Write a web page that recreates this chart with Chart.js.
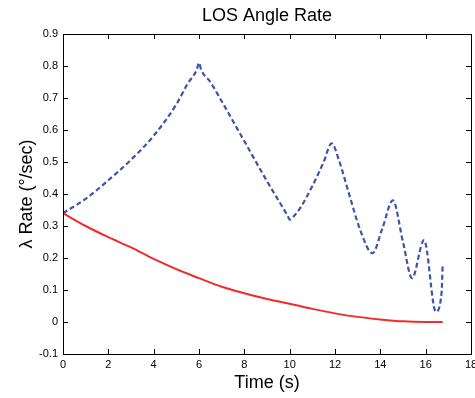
<!DOCTYPE html>
<html>
<head>
<meta charset="utf-8">
<script src="https://cdn.jsdelivr.net/npm/chart.js@4"></script>
<style>
  body { margin: 0; background: #fff; }
  canvas { display: block; }
</style>
</head>
<body>
<canvas id="canvas" width="475" height="398"></canvas>
<script>
const timeBlue = [0, 1, 2, 3, 4, 5, 5.5, 5.9, 6, 6.1, 6.5, 7, 8, 9, 9.9, 10, 10.15, 10.5, 11, 11.5, 11.85, 12.2, 12.6, 13.15, 13.65, 14.1, 14.55, 15.0, 15.4, 15.93, 16.45, 16.7, 16.75];
const rateBlue = [0.34, 0.385, 0.443, 0.507, 0.582, 0.68, 0.745, 0.788, 0.81, 0.787, 0.75, 0.69, 0.565, 0.44, 0.333, 0.32, 0.328, 0.36, 0.425, 0.50, 0.558, 0.50, 0.405, 0.28, 0.215, 0.295, 0.38, 0.25, 0.137, 0.256, 0.032, 0.09, 0.18];

const timeRed = [0, 1, 2, 3, 4, 5, 6, 7, 8, 9, 10, 11, 12, 13, 14, 15, 16, 16.75];
const rateRed = [0.34, 0.30, 0.265, 0.233, 0.197, 0.165, 0.137, 0.11, 0.09, 0.072, 0.057, 0.041, 0.027, 0.016, 0.008, 0.002, 0, 0];

const titleText = 'LOS Angle Rate';
const xTitle = 'Time (s)';
const yTitle = 'λ Rate (°/sec)';

const FONT = "'Liberation Sans', Arial, sans-serif";
Chart.defaults.font.family = FONT;
Chart.defaults.color = '#000';

function toPoints(xs, ys) {
    return xs.map(function (x, i) { return { x: x, y: ys[i] }; });
}

// frame, inward ticks on all four sides, title over plot area
const framePlugin = {
    id: 'frame',
    afterDraw(chart) {
        const ctx = chart.ctx;
        const a = chart.chartArea;
        const xs = chart.scales.x;
        const ys = chart.scales.y;
        ctx.save();
        ctx.strokeStyle = '#000';
        ctx.lineWidth = 1;
        ctx.beginPath();
        xs.ticks.forEach(function (t) {
            const px = Math.round(xs.getPixelForValue(t.value)) + 0.5;
            ctx.moveTo(px, a.bottom); ctx.lineTo(px, a.bottom - 5);
            ctx.moveTo(px, a.top); ctx.lineTo(px, a.top + 5);
        });
        ys.ticks.forEach(function (t) {
            const py = Math.round(ys.getPixelForValue(t.value)) + 0.5;
            ctx.moveTo(a.left, py); ctx.lineTo(a.left + 5, py);
            ctx.moveTo(a.right, py); ctx.lineTo(a.right - 5, py);
        });
        ctx.stroke();
        ctx.strokeRect(a.left + 0.5, a.top + 0.5, a.right - a.left, a.bottom - a.top);

        ctx.fillStyle = '#000';
        ctx.font = '18px ' + FONT;
        ctx.textAlign = 'center';
        ctx.textBaseline = 'middle';
        ctx.fillText(titleText, (a.left + a.right) / 2, 16);
        ctx.restore();
    }
};

const config = {
    type: 'line',
    data: {
        datasets: [
            {
                label: 'blue',
                data: toPoints(timeBlue, rateBlue),
                borderColor: '#3d55a8',
                borderWidth: 2.2,
                borderDash: [5, 3],
                pointRadius: 0,
                cubicInterpolationMode: 'monotone',
            },
            {
                label: 'red',
                data: toPoints(timeRed, rateRed),
                borderColor: '#ef2b2b',
                borderWidth: 2,
                pointRadius: 0,
                cubicInterpolationMode: 'monotone',
            },
        ],
    },
    options: {
        responsive: false,
        animation: false,
        layout: { padding: { top: 34, right: 4, left: 0, bottom: 0 } },
        plugins: {
            legend: { display: false },
            title: { display: false },
            tooltip: { enabled: false },
        },
        scales: {
            x: {
                type: 'linear',
                min: 0,
                max: 18,
                grid: { display: false, drawTicks: false },
                border: { display: false },
                ticks: { stepSize: 2, font: { size: 11 }, padding: 4, maxRotation: 0 },
                title: { display: true, text: xTitle, font: { size: 18 }, padding: { top: 0, bottom: 4 } },
                afterFit(scale) {
                    scale.height = 44;
                    scale.paddingRight = 0;
                },
            },
            y: {
                min: -0.1,
                max: 0.9,
                grid: { display: false, drawTicks: false },
                border: { display: false },
                ticks: { stepSize: 0.1, font: { size: 11 }, padding: 5 },
                title: { display: true, text: yTitle, font: { size: 18 }, padding: { top: 16, bottom: 0 } },
                afterFit(scale) {
                    scale.width = 63;
                },
            },
        },
    },
    plugins: [framePlugin],
};

const canvas = document.getElementById('canvas');
const chart = new Chart(canvas, config);
</script>
</body>
</html>
